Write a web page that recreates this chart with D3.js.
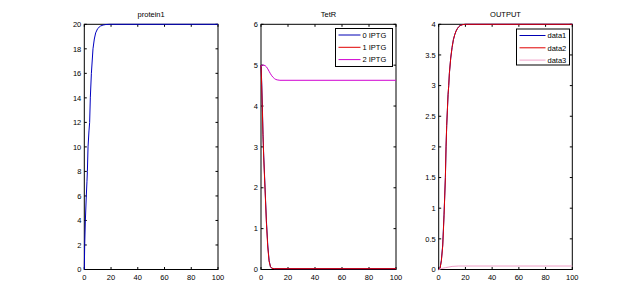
<!DOCTYPE html>
<html>
<head>
<meta charset="utf-8">
<script src="https://cdn.jsdelivr.net/npm/d3@7"></script>
<style>
  body { margin: 0; background: #fff; }
  svg text { font-family: "Liberation Sans", Arial, sans-serif; }
</style>
</head>
<body>
<svg id="chart" width="635" height="306"></svg>
<script>
// ---- data ----
const tProtein = [0, 0.3, 0.8, 1.5, 2, 2.3, 2.8, 3.5, 4, 4.5, 5.3, 6.5, 7.5, 8.5, 10, 12, 14, 16, 19, 100];
const protein1 = [0, 2, 4, 6, 7.2, 8, 10, 11.3, 12, 14, 16, 18, 18.8, 19.3, 19.65, 19.85, 19.94, 19.98, 20, 20];

const tTetR = [0, 0.5, 1, 1.5, 2, 3, 4, 5, 6, 7, 8, 10, 100];
const tetR0 = [5, 4.6, 4.0, 3.3, 2.8, 2.0, 1.2, 0.6, 0.22, 0.07, 0.03, 0.02, 0.02];
const tetR1 = [5, 4.5, 3.9, 3.25, 2.75, 1.95, 1.15, 0.55, 0.2, 0.07, 0.03, 0.02, 0.02];
const tTetR2 = [0, 1, 2, 3, 4, 5, 6, 7, 8, 9, 10, 11, 12, 14, 20, 100];
const tetR2 = [4.97, 5.0, 5.0, 4.99, 4.96, 4.91, 4.85, 4.79, 4.74, 4.70, 4.67, 4.65, 4.64, 4.63, 4.63, 4.63];

const tOut = [0, 1, 2, 3, 3.5, 4, 4.5, 5, 5.5, 6, 6.5, 7, 7.5, 8, 9, 10, 11, 12, 13, 14, 15, 16, 18, 20, 100];
const out1 = [0, 0.02, 0.15, 0.4, 0.65, 0.9, 1.2, 1.5, 2.0, 2.35, 2.6, 2.85, 3.0, 3.2, 3.45, 3.62, 3.75, 3.83, 3.89, 3.93, 3.96, 3.98, 3.995, 4, 4];
const out2 = [0, 0.02, 0.14, 0.38, 0.62, 0.88, 1.18, 1.5, 2.0, 2.35, 2.6, 2.85, 3.0, 3.2, 3.45, 3.62, 3.75, 3.83, 3.89, 3.93, 3.96, 3.98, 3.995, 4, 4];
const tOut3 = [0, 2, 5, 10, 15, 100];
const out3 = [0, 0.015, 0.03, 0.05, 0.057, 0.057];

const xTicks = [0, 20, 40, 60, 80, 100];
const proteinTicks = [0, 2, 4, 6, 8, 10, 12, 14, 16, 18, 20];
const tetRTicks = [0, 1, 2, 3, 4, 5, 6];
const outTicks = [0, 0.5, 1, 1.5, 2, 2.5, 3, 3.5, 4];

const svg = d3.select("#chart");
const plotTop = 24.3, plotBottom = 269.5;

function panel(opt) {
  const x = d3.scaleLinear().domain([0, 100]).range([opt.left, opt.right]);
  const y = d3.scaleLinear().domain(opt.yDomain).range([plotBottom, plotTop]);
  const g = svg.append("g");

  // box
  g.append("rect")
    .attr("x", opt.left).attr("y", plotTop)
    .attr("width", opt.right - opt.left).attr("height", plotBottom - plotTop)
    .attr("fill", "#fff").attr("stroke", "#000").attr("stroke-width", 1);

  // inward ticks, mirrored (box on)
  const tl = 2.5;
  xTicks.forEach((v) => {
    g.append("line").attr("x1", x(v)).attr("x2", x(v)).attr("y1", plotBottom).attr("y2", plotBottom - tl).attr("stroke", "#000");
    g.append("line").attr("x1", x(v)).attr("x2", x(v)).attr("y1", plotTop).attr("y2", plotTop + tl).attr("stroke", "#000");
    g.append("text").attr("x", x(v)).attr("y", 280).attr("text-anchor", "middle")
      .attr("font-size", 7.5).text(v);
  });
  opt.yTicks.forEach((v) => {
    g.append("line").attr("x1", opt.left).attr("x2", opt.left + tl).attr("y1", y(v)).attr("y2", y(v)).attr("stroke", "#000");
    g.append("line").attr("x1", opt.right).attr("x2", opt.right - tl).attr("y1", y(v)).attr("y2", y(v)).attr("stroke", "#000");
    g.append("text").attr("x", opt.left - 3).attr("y", y(v) + 2.7).attr("text-anchor", "end")
      .attr("font-size", 7.5).text(v);
  });

  g.append("text").attr("x", (opt.left + opt.right) / 2).attr("y", 17)
    .attr("text-anchor", "middle").attr("font-size", 7.5).text(opt.title);

  const line = d3.line().x((d) => x(d[0])).y((d) => y(d[1]));
  opt.series.forEach((s) => {
    g.append("path")
      .datum(s.t.map((t, i) => [t, s.v[i]]))
      .attr("d", line)
      .attr("fill", "none")
      .attr("stroke", s.color)
      .attr("stroke-width", 1);
  });

  if (opt.legend) {
    const L = opt.legend;
    g.append("rect").attr("x", L.x).attr("y", L.y).attr("width", L.w).attr("height", L.h)
      .attr("fill", "#fff").attr("stroke", "#000").attr("stroke-width", 1);
    opt.series.forEach((s, i) => {
      const yy = L.y + 6.5 + i * 12.3;
      g.append("line").attr("x1", L.x + 3).attr("x2", L.x + 3 + L.lineW).attr("y1", yy).attr("y2", yy)
        .attr("stroke", s.color).attr("stroke-width", 1);
      g.append("text").attr("x", L.x + 5 + L.lineW).attr("y", yy + 2.7)
        .attr("font-size", 7.5).text(s.name);
    });
  }
}

panel({
  left: 84.3, right: 218, yDomain: [0, 20], yTicks: proteinTicks, title: "protein1",
  series: [{ t: tProtein, v: protein1, color: "#0000c0" }]
});

panel({
  left: 261, right: 396, yDomain: [0, 6], yTicks: tetRTicks, title: "TetR",
  series: [
    { t: tTetR, v: tetR0, color: "#0000b4", name: "0 IPTG" },
    { t: tTetR, v: tetR1, color: "#e00000", name: "1 IPTG" },
    { t: tTetR2, v: tetR2, color: "#d000d0", name: "2 IPTG" }
  ],
  legend: { x: 335.5, y: 28.5, w: 57, h: 38, lineW: 22 }
});

panel({
  left: 438.7, right: 572.3, yDomain: [0, 4], yTicks: outTicks, title: "OUTPUT",
  series: [
    { t: tOut, v: out1, color: "#0000b4", name: "data1" },
    { t: tOut, v: out2, color: "#e00000", name: "data2" },
    { t: tOut3, v: out3, color: "#f0a0c8", name: "data3" }
  ],
  legend: { x: 516.5, y: 29, w: 53, h: 36, lineW: 26 }
});
</script>
</body>
</html>
